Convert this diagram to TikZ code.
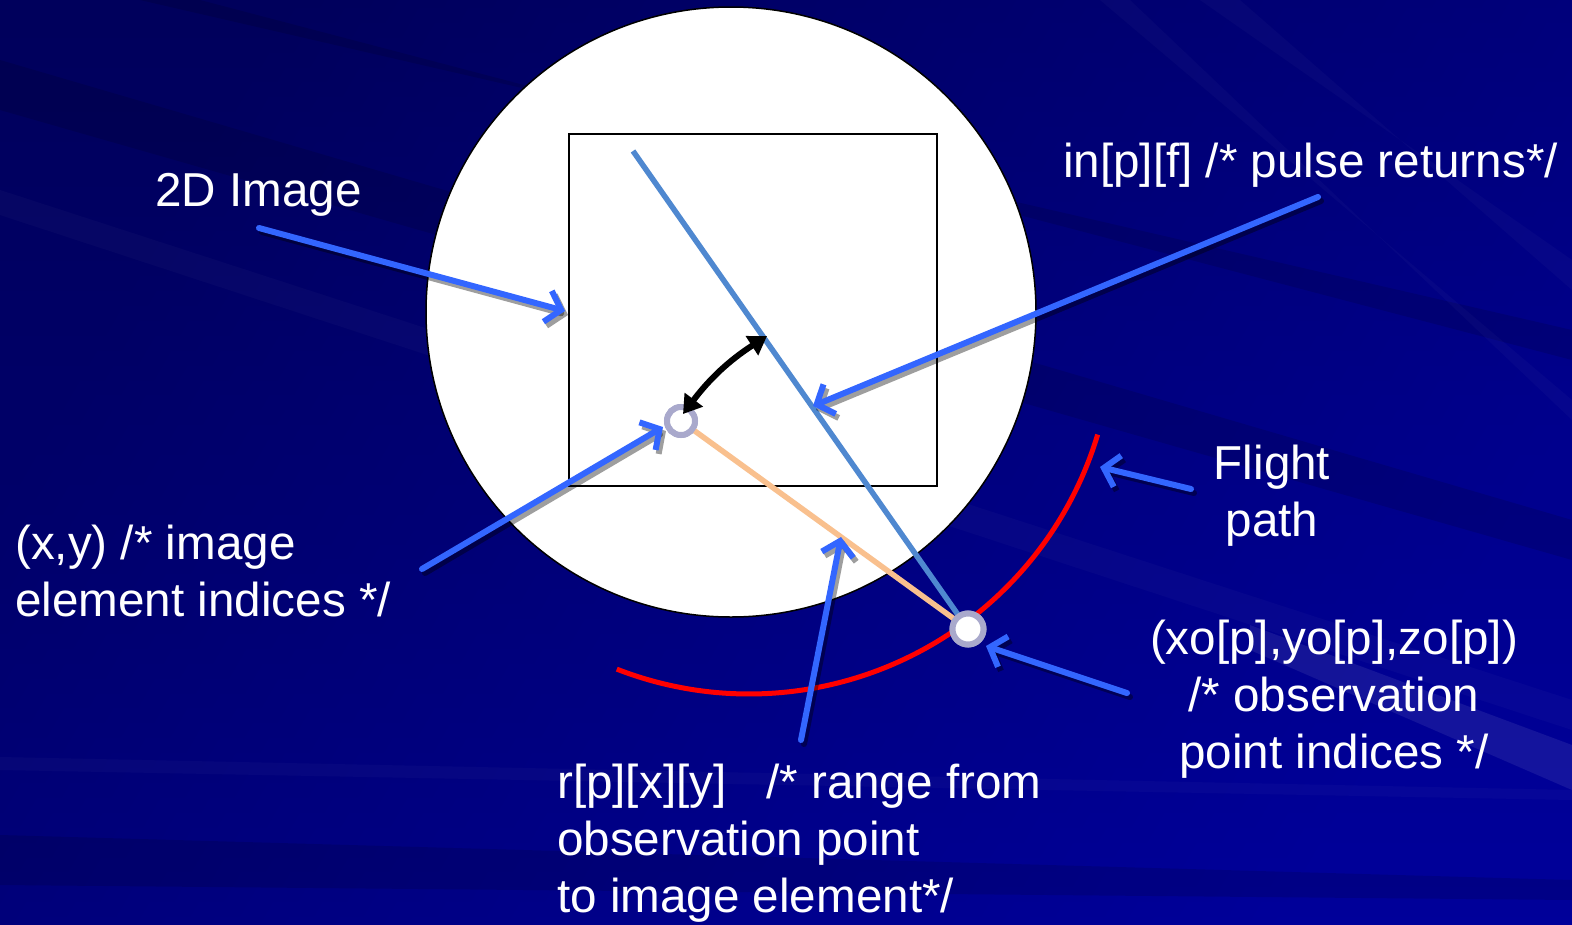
\documentclass[tikz,border=0pt]{standalone}
\usepackage{fontspec}
\setmainfont{Liberation Sans}
\usetikzlibrary{arrows.meta,shapes.geometric}
\definecolor{bgA}{HTML}{00005C}
\definecolor{bgB}{HTML}{00009A}
\definecolor{arrblue}{HTML}{3366FF}
\definecolor{rayblue}{HTML}{4F88D0}
\definecolor{rangeorange}{HTML}{F9C08E}
\definecolor{ringcol}{HTML}{A9A9CC}
\tikzset{
  lbl/.style={text=white, inner sep=0pt, font=\fontsize{47.6}{57}\selectfont},
  callout/.style={draw=arrblue, line width=6pt, line cap=round, -{Straight Barb[length=14pt,width=32pt,line width=6pt]}},
  callshadow/.style={draw=black, draw opacity=0.38, line width=6pt, line cap=round, -{Straight Barb[length=14pt,width=32pt,line width=6pt]}},
  ring/.style={circle, draw=ringcol, line width=6pt, fill=white, minimum size=28pt, inner sep=0pt},
  streak/.style={fill=white, opacity=0.025},
  darkstreak/.style={fill=black, opacity=0.12}
}
\begin{document}
\begin{tikzpicture}[x=1pt,y=-1pt]
% background
\useasboundingbox (0,0) rectangle (1572,924);
\shade[left color=bgA, right color=bgB, shading angle=60] (0,0) rectangle (1572,924);
\shade[top color=bgA, bottom color=bgB, opacity=0.4] (0,0) rectangle (1572,924);
% streaks
\fill[darkstreak] (0,60) -- (1572,520) -- (1572,560) -- (0,110) -- cycle;
\fill[streak] (0,190) -- (1572,700) -- (1572,730) -- (0,215) -- cycle;
\fill[darkstreak] (140,0) -- (1572,330) -- (1572,360) -- (200,0) -- cycle;
\fill[streak] (1200,0) -- (1572,260) -- (1572,290) -- (1240,0) -- cycle;
\fill[streak] (1100,0) -- (1572,400) -- (1572,420) -- (1130,0) -- cycle;
\fill[darkstreak] (0,835) -- (1572,880) -- (1572,900) -- (0,885) -- cycle;
\fill[streak] (0,757) -- (1572,790) -- (1572,800) -- (0,770) -- cycle;
\fill[streak, opacity=0.08] (1250,625) -- (1572,745) -- (1572,790) -- (1250,650) -- cycle;

% main shapes
\node[ellipse, draw=black, line width=1.5pt, fill=white, minimum width=610pt, minimum height=610pt, inner sep=0pt] (disc) at (731,312) {};
\node[draw=black, line width=2pt, minimum width=368pt, minimum height=352pt, inner sep=0pt] (img) at (753,310) {};

% flight path
\draw[red, line width=5pt] (749,330) ++(111.3:364) arc[start angle=111.3, end angle=16.7, radius=364];

% points
\coordinate (raytop) at (633,151);
\node[ring] (pix) at (681,421) {};
\node[ring, minimum size=31pt] (obs) at (968,629) {};
\draw[rayblue, line width=5.5pt] (raytop) -- (obs.center);
\draw[rangeorange, line width=5.5pt] (pix.center) -- (obs.center);
\node[ring] at (pix) {};
\node[ring, minimum size=31pt] at (obs) {};

% angle arrow
\coordinate (angA) at (683,414);
\coordinate (angB) at (767,336);
\draw[black, line width=6pt, {Triangle[length=18pt,width=22pt]}-{Triangle[length=18pt,width=22pt]}] (angA) to[bend left=10] (angB);

% labels
\node[lbl, anchor=base west] (t2d) at (155,206) {2D Image};
\node[lbl, anchor=base east] (tin) at (1558,177) {in[p][f] /* pulse returns*/};
\node[lbl, anchor=base, align=center] (tfp) at (1272,536) {Flight\\path};
\node[lbl, anchor=base west, align=left] (txy) at (15,616) {(x,y) /* image\\element indices */};
\node[lbl, anchor=base, align=center] (tobs) at (1334,768) {(xo[p],yo[p],zo[p])\\/* observation\\point indices */};
\node[lbl, anchor=base west, align=left] (tr) at (557,912) {r[p][x][y]\ \ \ /* range from\\observation point\\to image element*/};

% callout anchor coordinates
\coordinate (s1) at (259,228); \coordinate (e1) at (565,311);
\coordinate (s2) at (1318,197); \coordinate (e2) at (813,406);
\coordinate (s3) at (422,569); \coordinate (e3) at (663,427);
\coordinate (s4) at (1191,489); \coordinate (e4) at (1100,467);
\coordinate (s5) at (1127,693); \coordinate (e5) at (986,646);
\coordinate (s6) at (801,740); \coordinate (e6) at (841,537);

% shadows
\foreach \i in {1,...,6}{
  \draw[callshadow] ([shift={(3,4)}]s\i) -- ([shift={(3,4)}]e\i);
}
% arrows
\foreach \i in {1,...,6}{
  \draw[callout] (s\i) -- (e\i);
}
\end{tikzpicture}
\end{document}
